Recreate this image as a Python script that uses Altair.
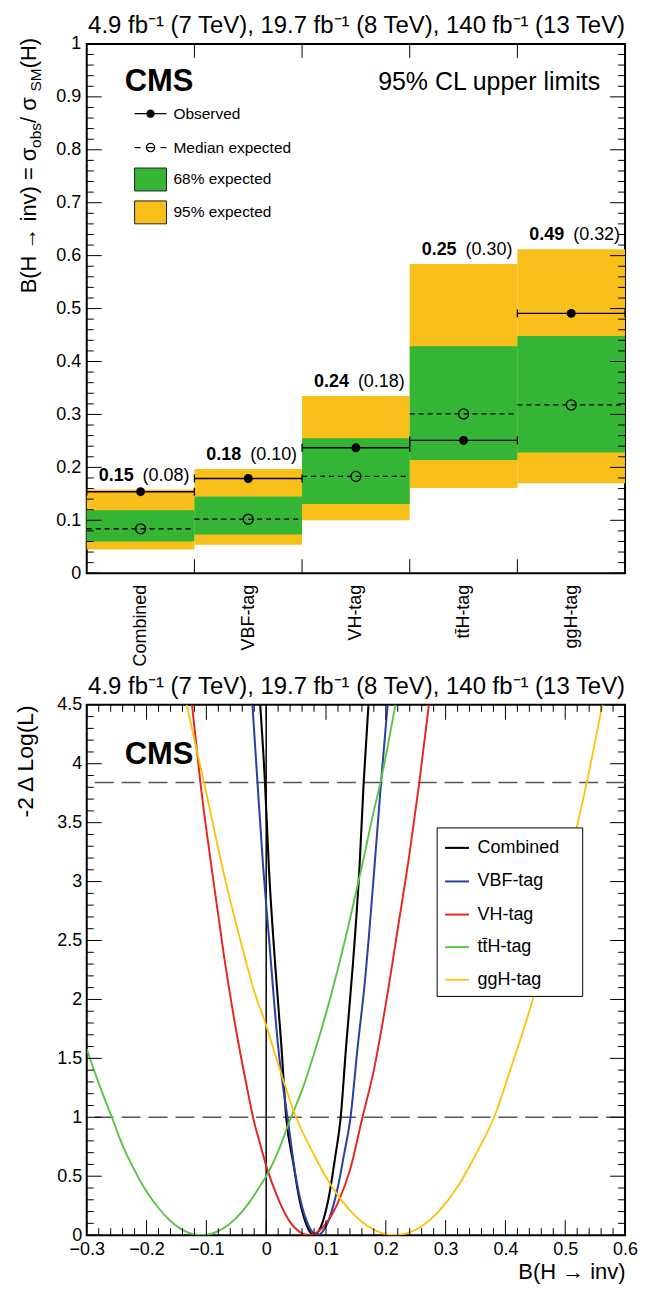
import json
import altair as alt
import pandas as pd

FONT = "Liberation Sans"
W = 540
H_TOP = 531
H_BOT = 532
GAP = 666  # vertical distance between the two plot areas' tops
YELLOW = "#F8BF1B"
GREEN = "#34B536"

# ---------------- upper panel: 95% CL upper limits ----------------
categories = ["Combined", "VBF-tag", "VH-tag", "tt\u0304H-tag", "ggH-tag"]
observed = [0.154, 0.179, 0.237, 0.251, 0.491]
expected = [0.084, 0.102, 0.183, 0.301, 0.318]
band68_lo = [0.060, 0.073, 0.131, 0.214, 0.228]
band68_hi = [0.119, 0.145, 0.255, 0.429, 0.448]
band95_lo = [0.045, 0.054, 0.100, 0.161, 0.170]
band95_hi = [0.158, 0.197, 0.335, 0.584, 0.612]
top_y_major = [round(0.1 * i, 1) for i in range(11)]
top_y_minor = [round(0.02 * i, 2) for i in range(51) if i % 5]
bin_edges = [1, 2, 3, 4]
legend_top_labels = ["Observed", "Median expected", "68% expected", "95% expected"]
lumi = "4.9 fb\u207b\u00b9 (7 TeV), 19.7 fb\u207b\u00b9 (8 TeV), 140 fb\u207b\u00b9 (13 TeV)"

# ---------------- lower panel: likelihood scans ----------------
series_names = ["Combined", "VBF-tag", "VH-tag", "tt\u0304H-tag", "ggH-tag"]
series_colors = ["#000000", "#2940A6", "#E5261E", "#57C443", "#FFC107"]
series_widths = [2.1, 1.8, 1.8, 1.8, 1.8]
comb_x = [-0.010, -0.002, 0.0045, 0.015, 0.0255, 0.0335, 0.045, 0.055, 0.065, 0.072, 0.080,
          0.088, 0.095, 0.105, 0.115, 0.1246, 0.1336, 0.145, 0.156, 0.163, 0.171]
comb_y = [4.5, 3.84, 3.12, 2.3, 1.6, 1.0, 0.62, 0.32, 0.12, 0.035, 0.0,
          0.035, 0.12, 0.33, 0.65, 1.0, 1.6, 2.3, 3.12, 3.84, 4.5]
vbf_x = [-0.023, -0.0145, -0.005, 0.005, 0.020, 0.037, 0.050, 0.060, 0.070, 0.078, 0.085,
         0.092, 0.100, 0.110, 0.120, 0.130, 0.141, 0.153, 0.165, 0.181, 0.192, 0.203]
vbf_y = [4.5, 3.84, 3.12, 2.5, 1.6, 0.95, 0.48, 0.24, 0.09, 0.02, 0.0,
         0.016, 0.075, 0.21, 0.41, 0.68, 1.0, 1.6, 2.15, 3.12, 3.84, 4.5]
vh_x = [-0.124, -0.110, -0.088, -0.070, -0.050, -0.030, -0.022, -0.010, 0.0, 0.020, 0.040, 0.055,
        0.071, 0.085, 0.100, 0.120, 0.140, 0.161, 0.180, 0.200, 0.220, 0.240, 0.256, 0.272]
vh_y = [4.5, 3.84, 3.0, 2.35, 1.73, 1.2, 1.0, 0.77, 0.59, 0.31, 0.11, 0.03,
        0.0, 0.023, 0.097, 0.276, 0.55, 1.0, 1.40, 1.96, 2.6, 3.25, 3.84, 4.5]
tth_x = [-0.300, -0.280, -0.258, -0.240, -0.220, -0.200, -0.180, -0.160, -0.140, -0.120, -0.108,
         -0.090, -0.070, -0.050, -0.030, -0.010, 0.0, 0.020, 0.040, 0.060, 0.080, 0.100, 0.120,
         0.140, 0.160, 0.180, 0.191, 0.216]
tth_y = [1.58, 1.29, 1.0, 0.76, 0.55, 0.37, 0.23, 0.12, 0.045, 0.006, 0.0,
         0.014, 0.063, 0.146, 0.265, 0.42, 0.50, 0.71, 0.98, 1.23, 1.54, 1.88, 2.26,
         2.68, 3.13, 3.60, 3.84, 4.5]
ggh_x = [-0.133, -0.100, -0.070, -0.040, -0.020, 0.0, 0.020, 0.050, 0.080, 0.110, 0.140, 0.170,
         0.195, 0.215, 0.235, 0.260, 0.290, 0.320, 0.350, 0.381, 0.410, 0.440, 0.470, 0.500,
         0.536, 0.562]
ggh_y = [4.5, 3.75, 3.05, 2.44, 2.07, 1.78, 1.45, 1.0, 0.68, 0.41, 0.21, 0.076,
         0.015, 0.0, 0.015, 0.076, 0.21, 0.41, 0.68, 1.0, 1.43, 1.90, 2.44, 3.05,
         3.84, 4.5]
ref_levels = [1.0, 3.84]
bot_x_major = [round(-0.3 + 0.1 * i, 1) for i in range(10)]
bot_x_minor = [round(-0.3 + 0.02 * i, 2) for i in range(46) if i % 5]
bot_y_major = [round(0.5 * i, 1) for i in range(10)]
bot_y_minor = [round(0.1 * i, 1) for i in range(46) if i % 5]

dummy = pd.DataFrame({"a": [0]})


def txt(text, x, y, size, weight="normal", align="left", angle=0, baseline="alphabetic"):
    return alt.Chart(dummy).mark_text(
        text=text, fontSize=size, fontWeight=weight, align=align, angle=angle,
        baseline=baseline, color="black", font=FONT).encode(x=alt.value(x), y=alt.value(y))


def yticks(vals, length, scale, axis, width):
    d = pd.DataFrame({"v": vals})
    out = []
    for a, b in [(0, length), (width - length, width)]:
        out.append(alt.Chart(d).mark_rule(color="black", strokeWidth=1).encode(
            y=alt.Y("v:Q", scale=scale, axis=axis), x=alt.value(a), x2=alt.value(b)))
    return out


def xticks(vals, length, scale, axis, height):
    d = pd.DataFrame({"v": vals})
    out = []
    for a, b in [(height, height - length), (0, length)]:
        out.append(alt.Chart(d).mark_rule(color="black", strokeWidth=1).encode(
            x=alt.X("v:Q", scale=scale, axis=axis), y=alt.value(a), y2=alt.value(b)))
    return out


# ================= build upper panel =================
top_df = pd.DataFrame({
    "cat": categories,
    "x0": list(range(5)),
    "obs": observed, "exp": expected,
    "lo68": band68_lo, "hi68": band68_hi,
    "lo95": band95_lo, "hi95": band95_hi,
})
top_df["x1"] = top_df["x0"] + 1
top_df["xc"] = top_df["x0"] + 0.5
top_df["obs_txt"] = [f"{v:.2f}" for v in observed]
top_df["exp_txt"] = [f"({v:.2f})" for v in expected]
caps_df = pd.DataFrame({
    "xe": [e for i in range(5) for e in (i, i + 1)],
    "obs": [o for o in observed for _ in range(2)],
})

xs = alt.Scale(domain=[0, 5], nice=False, zero=False)
ys = alt.Scale(domain=[0, 1], nice=False, zero=False)
cat_expr = json.dumps(categories, ensure_ascii=False) + "[floor(datum.value)]"
ax_tx = alt.Axis(values=[0.5, 1.5, 2.5, 3.5, 4.5], labelExpr=cat_expr, labelAngle=270,
                 labelFontSize=18, labelPadding=11, ticks=False, domain=False, grid=False,
                 labelFlush=False, labelOverlap=False, title=None)
ax_ty = alt.Axis(values=top_y_major, format=".1~f", labelFontSize=18, labelPadding=6,
                 ticks=False, domain=False, grid=False, labelOverlap=False, title=None)


def TX(f):
    return alt.X(f, scale=xs, axis=ax_tx)


def TY(f):
    return alt.Y(f, scale=ys, axis=ax_ty)


base = alt.Chart(top_df)
rect95 = base.mark_rect(color=YELLOW).encode(x=TX("x0:Q"), x2="x1", y=TY("lo95:Q"), y2="hi95")
rect68 = base.mark_rect(color=GREEN).encode(x=TX("x0:Q"), x2="x1", y=TY("lo68:Q"), y2="hi68")
exp_line = base.mark_rule(color="black", strokeWidth=1.3, strokeDash=[5, 4]).encode(
    x=TX("x0:Q"), x2="x1", y=TY("exp:Q"))
exp_pts = base.mark_point(shape="circle", filled=False, size=100, color="black",
                          strokeWidth=1.3, opacity=1).encode(x=TX("xc:Q"), y=TY("exp:Q"))
obs_line = base.mark_rule(color="black", strokeWidth=1.4).encode(
    x=TX("x0:Q"), x2="x1", y=TY("obs:Q"))
obs_caps = alt.Chart(caps_df).mark_tick(orient="vertical", color="black", thickness=1.3,
                                       size=8, opacity=1).encode(x=TX("xe:Q"), y=TY("obs:Q"))
obs_pts = base.mark_circle(size=80, color="black", opacity=1).encode(x=TX("xc:Q"), y=TY("obs:Q"))
lab_obs = base.mark_text(align="left", baseline="alphabetic", dx=12, dy=-9, fontSize=18,
                         fontWeight="bold", color="black").encode(
    x=TX("x0:Q"), y=TY("hi95:Q"), text="obs_txt")
lab_exp = base.mark_text(align="left", baseline="alphabetic", dx=56, dy=-9, fontSize=18,
                         color="black").encode(x=TX("x0:Q"), y=TY("hi95:Q"), text="exp_txt")

# hand-made legend of the upper panel
leg = []
ly = [70, 104, 136, 169]
lx0, lx1 = 48, 80
lxc = (lx0 + lx1) / 2
leg.append(alt.Chart(dummy).mark_rule(color="black", strokeWidth=1.3).encode(
    x=alt.value(lx0), x2=alt.value(lx1), y=alt.value(ly[0])))
leg.append(alt.Chart(dummy).mark_circle(size=70, color="black", opacity=1).encode(
    x=alt.value(lxc), y=alt.value(ly[0])))
for a, b in [(lx0, lx0 + 6), (lx1 - 6, lx1), (lxc - 4, lxc + 4)]:
    leg.append(alt.Chart(dummy).mark_rule(color="black", strokeWidth=1.2).encode(
        x=alt.value(a), x2=alt.value(b), y=alt.value(ly[1])))
leg.append(alt.Chart(dummy).mark_point(shape="circle", filled=False, size=70, color="black",
                                       strokeWidth=1.2, opacity=1).encode(
    x=alt.value(lxc), y=alt.value(ly[1])))
for yy, col in [(ly[2], GREEN), (ly[3], YELLOW)]:
    leg.append(alt.Chart(dummy).mark_rect(color=col, stroke="#222", strokeWidth=1).encode(
        x=alt.value(lx0), x2=alt.value(lx1), y=alt.value(yy - 11.5), y2=alt.value(yy + 11.5)))
for yy, lab in zip(ly, legend_top_labels):
    leg.append(txt(lab, 87, yy, 15.5, baseline="middle"))

# y-axis title with subscripts (rotated, reading upwards, ending near the top)
YB = -51
F1, F2 = 22, 15.5
NB = "\u00a0"
pieces = [
    ("B(H \u2192 inv) = \u03c3", F1, 0, 6.63 * F1),
    ("obs", F2, 5, 1.612 * F2),
    (NB + "/" + NB + "\u03c3", F1, 0, 1.434 * F1),
    ("SM", F2, 5, 1.5 * F2),
    ("(H)", F1, 0, 1.388 * F1),
]
total = sum(p[3] for p in pieces)
ytitle = []
pos = -6 + total
for t, fs, off, wdt in pieces:
    ytitle.append(txt(t, YB + off, pos, fs, angle=270))
    pos -= wdt

top_layers = ([rect95, rect68, exp_line, exp_pts, obs_line, obs_caps, obs_pts, lab_obs, lab_exp]
              + yticks(top_y_major, 15, ys, ax_ty, W) + yticks(top_y_minor, 7, ys, ax_ty, W)
              + xticks(bin_edges, 14, xs, ax_tx, H_TOP)
              + [txt("CMS", 38, 47, 31, weight="bold"),
                 txt("95% CL upper limits", 515, 46, 25, align="right"),
                 txt(lumi, W, -11, 24, align="right")]
              + leg + ytitle)
top = alt.layer(*top_layers).properties(width=W, height=H_TOP)

# ================= build lower panel =================
rows = []
for name, xv, yv in zip(series_names, [comb_x, vbf_x, vh_x, tth_x, ggh_x],
                        [comb_y, vbf_y, vh_y, tth_y, ggh_y]):
    for a, b in zip(xv, yv):
        rows.append({"series": name, "x": a, "y": b})
curve_df = pd.DataFrame(rows)

xb = alt.Scale(domain=[-0.3, 0.6], nice=False, zero=False)
yb = alt.Scale(domain=[0, 4.5], nice=False, zero=False)
ax_bx = alt.Axis(values=bot_x_major, format=".1~f", labelFontSize=18, labelPadding=5,
                 ticks=False, domain=False, grid=False, labelFlush=False, labelOverlap=False,
                 title="B(H \u2192 inv)", titleAnchor="end", titleFontSize=22,
                 titleFontWeight="normal", titlePadding=4)
ax_by = alt.Axis(values=bot_y_major, format=".1~f", labelFontSize=18, labelPadding=5,
                 ticks=False, domain=False, grid=False, labelOverlap=False,
                 title="-2 \u0394 Log(L)", titleAnchor="end", titleFontSize=23,
                 titleFontWeight="normal", titlePadding=19)

curves = alt.Chart(curve_df).mark_line(interpolate="monotone", clip=True).encode(
    x=alt.X("x:Q", scale=xb, axis=ax_bx),
    y=alt.Y("y:Q", scale=yb, axis=ax_by),
    strokeWidth=alt.StrokeWidth("series:N", scale=alt.Scale(domain=series_names,
                                                            range=series_widths), legend=None),
    color=alt.Color("series:N", scale=alt.Scale(domain=series_names, range=series_colors),
                    legend=alt.Legend(title="...", titleOrient="right", titleColor="white",
                                      titleFontSize=18, titlePadding=0,
                                      orient="none", legendX=351, legendY=GAP + 120,
                                      fillColor="white", strokeColor="black", padding=7,
                                      labelFontSize=18, symbolType="stroke", symbolSize=576,
                                      symbolStrokeWidth=2, rowPadding=10.7, labelOffset=7)),
)
hlines = alt.Chart(pd.DataFrame({"v": ref_levels})).mark_rule(
    color="#555555", strokeWidth=1.5, strokeDash=[19, 8]).encode(
    y=alt.Y("v:Q", scale=yb, axis=ax_by))
vline = alt.Chart(pd.DataFrame({"v": [0.0]})).mark_rule(color="black", strokeWidth=1.5).encode(
    x=alt.X("v:Q", scale=xb, axis=ax_bx))

bot_layers = ([hlines, vline, curves]
              + xticks(bot_x_major, 15, xb, ax_bx, H_BOT) + xticks(bot_x_minor, 7, xb, ax_bx, H_BOT)
              + yticks(bot_y_major, 15, yb, ax_by, W) + yticks(bot_y_minor, 7, yb, ax_by, W)
              + [txt("CMS", 38, 59, 31, weight="bold"),
                 txt(lumi, W, -11, 24, align="right")])
bottom = alt.layer(*bot_layers).properties(width=W, height=H_BOT)

chart = alt.vconcat(top, bottom, spacing=6).configure(
    font=FONT, padding={"left": 5, "top": 3, "right": 0, "bottom": 0}
).configure_view(stroke="black", strokeWidth=2).configure_axis(
    labelColor="black", titleColor="black", labelFont=FONT, titleFont=FONT
).configure_legend(labelColor="black", labelFont=FONT)

chart.save("out.html", embed_options={"renderer": "svg", "actions": False})
